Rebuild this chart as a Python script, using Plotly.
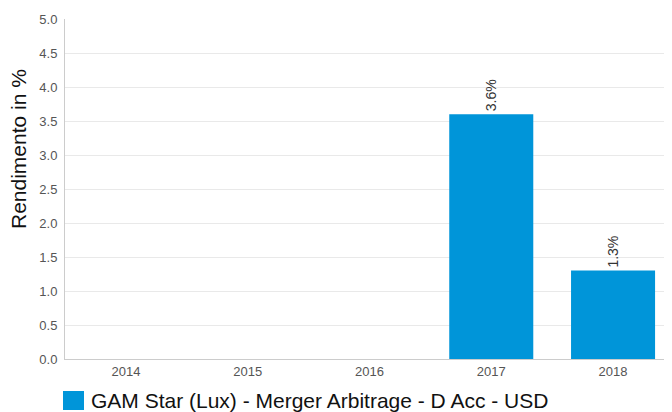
import plotly.graph_objects as go

years = ["2014", "2015", "2016", "2017", "2018"]
returns = [None, None, None, 3.6, 1.3]
labels = ["", "", "", "3.6%", "1.3%"]
series_name = "GAM Star (Lux) - Merger Arbitrage - D Acc - USD"
y_title = "Rendimento in %"
bar_color = "#0095d9"
FONT = "Liberation Sans"

# page body has an 8px default margin, so the figure is 8px smaller
W, H = 664, 404
L, R, T, B = 57, 0, 11, 53
PW, PH = W - L - R, H - T - B

fig = go.Figure()
fig.add_trace(go.Bar(
    x=years, y=returns, name=series_name,
    marker=dict(color=bar_color, line=dict(width=0)),
    width=0.69,
    text=labels, textposition="outside", textangle=-90,
    textfont=dict(size=14, color="#333333", family=FONT),
    cliponaxis=False, showlegend=False,
))

# legend drawn as a swatch + label below the plot
fig.add_shape(type="rect", xref="paper", yref="paper",
              x0=-2 / PW, x1=19 / PW, y0=-51 / PH, y1=-32 / PH,
              fillcolor=bar_color, line=dict(width=0))
fig.add_annotation(text=series_name, xref="paper", yref="paper",
                   x=24 / PW, y=-41.5 / PH, xanchor="left", yanchor="middle",
                   showarrow=False, font=dict(size=21, color="#111111", family=FONT))
# y-axis title (placed above centre, as in the reference)
fig.add_annotation(text=y_title, xref="paper", yref="paper",
                   x=-47 / PW, y=210 / PH, xanchor="center", yanchor="middle",
                   textangle=-90, showarrow=False,
                   font=dict(size=21, color="#111111", family=FONT))

fig.update_layout(
    width=W, height=H,
    margin=dict(l=L, r=R, t=T, b=B, autoexpand=False),
    plot_bgcolor="white", paper_bgcolor="white",
    font=dict(family=FONT, color="#555555", size=13),
    showlegend=False,
)
fig.update_xaxes(
    type="category", range=[-0.5, 4.484], automargin=False,
    showline=True, linecolor="#cccccc", linewidth=1,
    ticks="", tickfont=dict(size=13, color="#555555", family=FONT),
    showgrid=False,
)
fig.update_yaxes(
    range=[0, 5], dtick=0.5, tickformat=".1f", automargin=False,
    showline=True, linecolor="#cccccc", linewidth=1,
    gridcolor="#e9e9e9", gridwidth=1,
    tickfont=dict(size=13, color="#555555", family=FONT),
    ticks="outside", ticklen=4, tickcolor="white",
    zeroline=False,
)

fig.write_html("out.html")
